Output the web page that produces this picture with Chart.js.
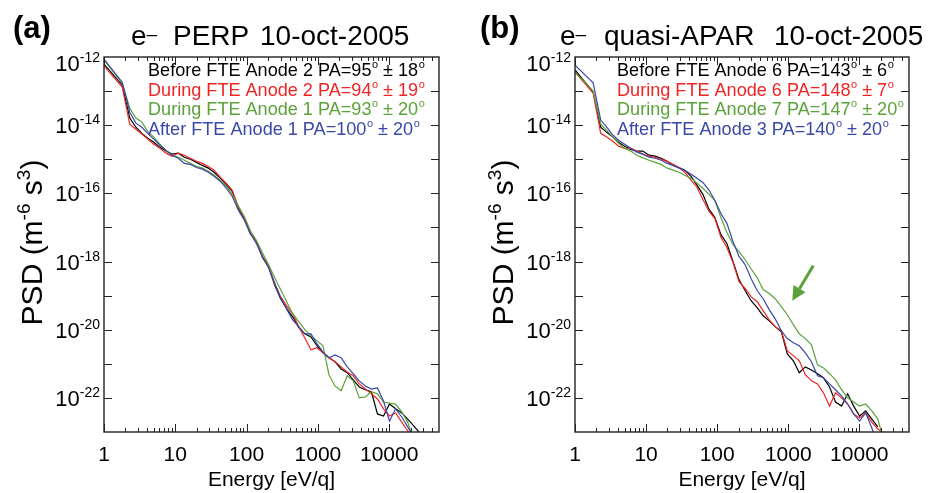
<!DOCTYPE html>
<html>
<head>
<meta charset="utf-8">
<script src="https://cdn.jsdelivr.net/npm/chart.js@4.4.1/dist/chart.umd.min.js"></script>
<style>
  body { margin: 0; background: #fff; }
  #wrap { position: relative; width: 934px; height: 493px; }
  .panel { position: absolute; top: 0; width: 467px; height: 493px; }
</style>
</head>
<body>
<div id="wrap">
  <div class="panel" style="left:0"><canvas id="chartA" width="467" height="493"></canvas></div>
  <div class="panel" style="left:467px"><canvas id="chartB" width="467" height="493"></canvas></div>
</div>
<script>
// Energy channels (eV/q), shared by every curve
const energyEv = [1, 1.8, 2.3, 2.8, 3.4, 4.1, 5.0, 6.1, 7.4, 9.0,
  11, 13.4, 16.3, 19.8, 24, 29, 35, 43, 52, 63,
  77, 93, 113, 137, 167, 203, 247, 300, 365, 443,
  540, 655, 800, 970, 1180, 1430, 1740, 2120, 2580, 3130,
  3810, 4630, 5630, 6850, 8330, 10100, 12300, 15000, 18200, 22100,
  26900];

// log10 of PSD (m^-6 s^3), panel (a) PERP
const aBefore = [-12.21, -12.82, -13.79, -14.06, -14.24, -14.38, -14.50, -14.65, -14.76, -14.85,
  -14.82, -14.94, -15.00, -15.09, -15.18, -15.26, -15.38, -15.56, -15.74, -15.94,
  -16.44, -16.76, -17.18, -17.41, -17.88, -18.15, -18.68, -19.09, -19.38, -19.62,
  -19.94, -20.12, -20.21, -20.47, -20.68, -20.82, -20.94, -21.15, -21.26, -21.47,
  -21.68, -21.76, -21.82, -22.47, -22.53, -22.18, -22.32, -22.44, -22.62, -22.82,
  -23.03];
const aDuring2 = [-12.26, -12.88, -13.97, -14.12, -14.26, -14.41, -14.56, -14.68, -14.82, -14.91,
  -14.82, -14.88, -14.97, -15.06, -15.12, -15.21, -15.32, -15.53, -15.71, -15.91,
  -16.41, -16.74, -17.18, -17.41, -17.85, -18.12, -18.65, -19.03, -19.30, -19.53,
  -19.91, -20.24, -20.59, -20.53, -20.68, -20.82, -20.94, -21.09, -21.24, -21.35,
  -21.59, -21.74, -21.88, -22.03, -22.32, -22.53, -22.44, -22.71, -22.97, -23.21,
  -23.41];
const aDuring1 = [-12.09, -12.76, -13.50, -13.79, -13.91, -14.18, -14.35, -14.56, -14.74, -14.88,
  -14.94, -15.03, -15.12, -15.21, -15.26, -15.35, -15.47, -15.62, -15.79, -16.03,
  -16.38, -16.68, -17.09, -17.38, -17.74, -18.09, -18.47, -18.82, -19.18, -19.53,
  -19.76, -20.00, -20.18, -20.32, -20.47, -21.32, -21.65, -21.79, -21.35, -21.50,
  -22.00, -21.97, -21.82, -21.88, -22.12, -22.15, -22.18, -22.41, -22.71, -23.26,
  -23.56];
const aAfter = [-12.06, -12.74, -13.62, -13.94, -14.06, -14.24, -14.41, -14.59, -14.74, -14.88,
  -14.97, -15.12, -15.15, -15.24, -15.29, -15.38, -15.50, -15.65, -15.85, -16.09,
  -16.50, -16.79, -17.18, -17.47, -17.85, -18.18, -18.62, -19.06, -19.40, -19.71,
  -19.91, -20.12, -20.12, -20.41, -20.65, -20.82, -20.74, -20.82, -21.09, -21.29,
  -21.50, -21.65, -21.74, -21.71, -22.09, -22.68, -22.32, -22.56, -22.85, -23.15,
  -23.41];

// log10 of PSD, panel (b) quasi-APAR
const bBefore = [-12.38, -13.03, -14.06, -14.21, -14.35, -14.50, -14.62, -14.71, -14.76, -14.76,
  -14.88, -14.91, -14.97, -15.06, -15.18, -15.24, -15.32, -15.50, -15.76, -16.03,
  -16.47, -16.71, -17.21, -17.47, -18.00, -18.53, -18.85, -19.15, -19.35, -19.59,
  -19.74, -19.91, -20.06, -20.71, -20.91, -21.26, -21.09, -21.18, -21.29, -21.41,
  -21.68, -22.12, -22.24, -21.88, -22.24, -22.53, -22.38, -22.62, -22.85, null,
  null];
const bDuring6 = [-12.44, -13.06, -14.24, -14.35, -14.47, -14.62, -14.68, -14.68, -14.76, -14.85,
  -14.91, -14.94, -15.00, -15.06, -15.15, -15.24, -15.38, -15.62, -15.82, -16.18,
  -16.53, -16.74, -17.29, -17.59, -18.03, -18.59, -18.79, -19.03, -19.18, -19.44,
  -19.71, -19.91, -20.03, -20.62, -20.76, -20.91, -21.32, -21.50, -21.59, -21.85,
  -22.24, -21.85, -22.00, -22.18, -22.47, -22.59, -22.44, -22.71, -22.91, -23.03,
  -23.15];
const bDuring7 = [-12.44, -13.00, -13.97, -14.15, -14.35, -14.53, -14.68, -14.76, -14.88, -14.96,
  -15.03, -15.09, -15.15, -15.26, -15.32, -15.38, -15.47, -15.56, -15.70, -15.85,
  -16.03, -16.21, -16.71, -17.15, -17.50, -17.71, -17.94, -18.21, -18.47, -18.82,
  -18.94, -19.09, -19.32, -19.56, -19.85, -20.12, -20.26, -20.44, -21.03, -21.12,
  -21.29, -21.47, -21.76, -22.00, -22.12, -22.24, -22.18, -22.38, -22.62, -23.26,
  -23.56];
const bAfter = [-12.24, -12.76, -13.85, -14.06, -14.29, -14.44, -14.56, -14.68, -14.79, -14.85,
  -14.94, -14.97, -15.03, -15.12, -15.18, -15.26, -15.32, -15.44, -15.56, -15.68,
  -15.91, -16.21, -16.59, -16.88, -17.41, -17.85, -18.09, -18.50, -18.85, -19.09,
  -19.41, -19.68, -20.03, -20.26, -20.38, -20.47, -20.68, -20.94, -21.35, -21.41,
  -21.59, -21.76, -21.94, -22.18, -22.47, -22.68, -22.44, -22.88, -23.41, null,
  null];

const labelsA = ['Before FTE Anode 2 PA=95° ± 18°', 'During FTE Anode 2 PA=94° ± 19°',
  'During FTE Anode 1 PA=93° ± 20°', 'After FTE Anode 1 PA=100° ± 20°'];
const labelsB = ['Before FTE Anode 6 PA=143° ± 6°', 'During FTE Anode 6 PA=148° ± 7°',
  'During FTE Anode 7 PA=147° ± 20°', 'After FTE Anode 3 PA=140° ± 20°'];

const xTickValues = [1, 10, 100, 1000, 10000];
const yLabelExps = [-12, -14, -16, -18, -20, -22];

// green arrow in panel (b), energy / PSD of tail and tip
const arrowTail = { x: 2250, y: 7.6e-19 };
const arrowTip = { x: 1140, y: 7.1e-20 };

const colors = ['#000000', '#f02424', '#5ba23a', '#3a48a8'];
const FONT = "'Liberation Sans', Arial, Helvetica, sans-serif";
Chart.defaults.font.family = FONT;
Chart.defaults.color = '#000';

// draw text where every ° becomes a small raised "o"
function drawDeg(ctx, text, x, y, size) {
  const pieces = text.split('°');
  let cx = x;
  pieces.forEach((p, i) => {
    ctx.font = size + 'px ' + FONT;
    ctx.fillText(p, cx, y);
    cx += ctx.measureText(p).width;
    if (i < pieces.length - 1) {
      ctx.font = Math.round(size * 0.62) + 'px ' + FONT;
      ctx.fillText('o', cx + 0.5, y - size * 0.42);
      cx += ctx.measureText('o').width + 0.5;
    }
  });
}

// text parts: [text, isSuperscript]
function richWidth(ctx, parts, size, supSize) {
  let w = 0;
  parts.forEach(p => {
    ctx.font = (p[1] ? supSize : size) + 'px ' + FONT;
    w += ctx.measureText(p[0]).width;
  });
  return w;
}
function drawRich(ctx, parts, x, y, size, supSize, rise) {
  let cx = x;
  parts.forEach(p => {
    ctx.font = (p[1] ? supSize : size) + 'px ' + FONT;
    ctx.fillText(p[0], cx, p[1] ? y - rise : y);
    cx += ctx.measureText(p[0]).width;
  });
}

function makeDecor(cfg) {
  return {
    id: 'decor' + cfg.panel,
    afterDraw(chart) {
      const ctx = chart.ctx;
      const area = chart.chartArea;
      const xs = chart.scales.x;
      const ys = chart.scales.y;
      ctx.save();
      ctx.fillStyle = '#000';
      ctx.strokeStyle = '#222';
      ctx.textAlign = 'left';
      ctx.textBaseline = 'alphabetic';

      // frame
      ctx.lineWidth = 1.4;
      ctx.strokeRect(area.left, area.top, area.right - area.left, area.bottom - area.top);

      // inward x ticks, bottom and top
      ctx.lineWidth = 1;
      ctx.beginPath();
      for (let d = 0; d <= 4; d++) {
        for (let m = 1; m <= 9; m++) {
          const v = m * Math.pow(10, d);
          if (v >= xs.max) break;
          const px = Math.round(xs.getPixelForValue(v)) + 0.5;
          const len = m === 1 ? 8 : 4;
          ctx.moveTo(px, area.bottom); ctx.lineTo(px, area.bottom - len);
          ctx.moveTo(px, area.top); ctx.lineTo(px, area.top + len);
        }
      }
      // inward y ticks at every decade, left and right
      for (let e = -22; e <= -13; e++) {
        const py = Math.round(ys.getPixelForValue(Math.pow(10, e))) + 0.5;
        ctx.moveTo(area.left, py); ctx.lineTo(area.left + 8, py);
        ctx.moveTo(area.right, py); ctx.lineTo(area.right - 8, py);
      }
      ctx.stroke();

      // y tick labels 10^n
      yLabelExps.forEach(e => {
        const py = ys.getPixelForValue(Math.pow(10, e));
        const parts = [['10', false], [String(e), true]];
        const w = richWidth(ctx, parts, 22, 14);
        const base = py + (e === -12 ? 14 : 8);
        drawRich(ctx, parts, area.left - 4 - w, base, 22, 14, 9);
      });

      // y axis title
      ctx.save();
      ctx.translate(cfg.yTitleX, (area.top + area.bottom) / 2 - 2);
      ctx.rotate(-Math.PI / 2);
      const yParts = [['PSD (m', false], ['-6', true], [' s', false], ['3', true], [')', false]];
      const yw = richWidth(ctx, yParts, 30, 19);
      drawRich(ctx, yParts, -yw / 2, 0, 30, 19, 12);
      ctx.restore();

      // panel letter
      ctx.font = 'bold 31px ' + FONT;
      ctx.fillText(cfg.panel, 13, 38);

      // title: e with raised minus, then the words
      ctx.font = '28px ' + FONT;
      ctx.fillText('e', cfg.titleX, 45);
      const ew = ctx.measureText('e').width;
      ctx.font = '19px ' + FONT;
      ctx.fillText('\u2013', cfg.titleX + ew, 40);
      ctx.font = '28px ' + FONT;
      ctx.fillText(cfg.titleMid, cfg.titleX + cfg.midGap, 45);
      ctx.fillText('10-oct-2005', cfg.titleX + cfg.dateGap, 45);

      // legend text in series colours
      cfg.labels.forEach((t, i) => {
        ctx.fillStyle = colors[i];
        drawDeg(ctx, t, cfg.legendX, 76 + i * 19.5, 18.1);
      });

      // arrow
      if (cfg.arrow) {
        const x1 = xs.getPixelForValue(arrowTail.x), y1 = ys.getPixelForValue(arrowTail.y);
        const x2 = xs.getPixelForValue(arrowTip.x), y2 = ys.getPixelForValue(arrowTip.y);
        const ang = Math.atan2(y2 - y1, x2 - x1);
        const hl = 14, hw = 7;
        const bx = x2 - hl * Math.cos(ang), by = y2 - hl * Math.sin(ang);
        ctx.strokeStyle = colors[2];
        ctx.fillStyle = colors[2];
        ctx.lineWidth = 3;
        ctx.beginPath(); ctx.moveTo(x1, y1); ctx.lineTo(bx, by); ctx.stroke();
        ctx.beginPath();
        ctx.moveTo(x2, y2);
        ctx.lineTo(bx + hw * Math.sin(ang), by - hw * Math.cos(ang));
        ctx.lineTo(bx - hw * Math.sin(ang), by + hw * Math.cos(ang));
        ctx.closePath(); ctx.fill();
      }
      ctx.restore();
    }
  };
}

function makeChart(canvasId, series, labels, cfg) {
  const datasets = series.map((s, i) => ({
    label: labels[i],
    data: energyEv.map((e, k) => ({ x: e, y: s[k] === null ? null : Math.pow(10, s[k]) })),
    borderColor: colors[i],
    borderWidth: 1.2,
    pointRadius: 0,
    fill: false,
    tension: 0,
    order: 4 - i
  }));

  return new Chart(document.getElementById(canvasId), {
    type: 'line',
    data: { datasets: datasets },
    options: {
      responsive: false,
      animation: false,
      layout: { padding: { top: 57, right: cfg.padRight, bottom: 0, left: 0 } },
      plugins: { legend: { display: false }, tooltip: { enabled: false } },
      scales: {
        x: {
          type: 'logarithmic',
          min: 1,
          max: 50000,
          bounds: 'data',
          grid: { display: false, drawTicks: false },
          border: { display: false },
          afterBuildTicks: scale => { scale.ticks = xTickValues.map(v => ({ value: v })); },
          afterFit: scale => { scale.height = 61; },
          ticks: {
            autoSkip: false,
            maxRotation: 0,
            padding: 11,
            font: { size: 21 },
            color: '#000',
            callback: v => String(v)
          },
          title: { display: true, text: 'Energy [eV/q]', font: { size: 21 }, padding: 0, color: '#000' }
        },
        y: {
          type: 'logarithmic',
          min: 1e-23,
          max: 1e-12,
          bounds: 'data',
          grid: { display: false, drawTicks: false },
          border: { display: false },
          ticks: { display: false },
          afterFit: scale => { scale.width = cfg.leftWidth; }
        }
      }
    },
    plugins: [makeDecor(cfg)]
  });
}

document.addEventListener('DOMContentLoaded', function() {
  makeChart('chartA', [aBefore, aDuring2, aDuring1, aAfter], labelsA, {
    panel: '(a)', leftWidth: 104, padRight: 28, yTitleX: 42,
    titleX: 131, titleMid: 'PERP', midGap: 42, dateGap: 129,
    legendX: 148, labels: labelsA, arrow: false
  });
  makeChart('chartB', [bBefore, bDuring6, bDuring7, bAfter], labelsB, {
    panel: '(b)', leftWidth: 108, padRight: 25, yTitleX: 46,
    titleX: 93, titleMid: 'quasi-APAR', midGap: 44, dateGap: 214,
    legendX: 150, labels: labelsB, arrow: true
  });
});
</script>
</body>
</html>
